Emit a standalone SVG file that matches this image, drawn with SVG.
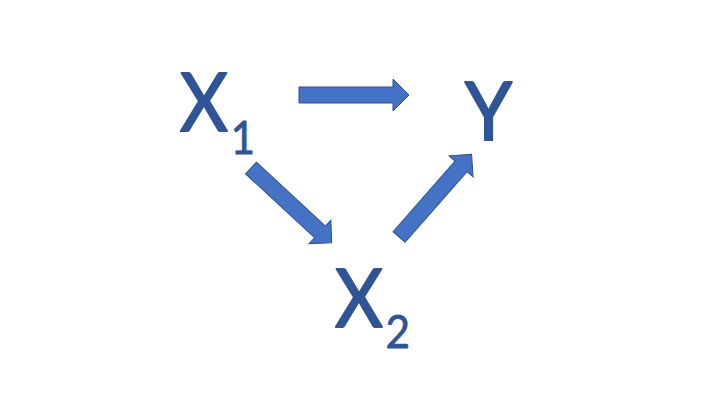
<svg xmlns="http://www.w3.org/2000/svg" width="720" height="405" viewBox="0 0 720 405">
<style>
.lbl{font-family:Lato,"Open Sans","Liberation Sans",sans-serif;fill:#2F5597;stroke:#2F5597;stroke-width:2;stroke-linejoin:round}
.big{font-size:82px}
.sub{font-size:47px;stroke-width:0.8}
.arr{fill:#4472C4;stroke:#2F528F;stroke-width:1}
</style>
<defs>
<path id="arrow" d="M0,-8 H94 V-16 L110,0 L94,16 V8 H0 Z"/>
</defs>
<rect width="720" height="405" fill="#fff"/>
<g id="connectors">
<use href="#arrow" class="arr" transform="translate(299,95)"/>
<use href="#arrow" class="arr" transform="translate(251,168) rotate(42.8)"/>
<use href="#arrow" class="arr" transform="translate(399,237) rotate(-48.7)"/>
</g>
<g id="X1"><text class="lbl" transform="translate(180,131) scale(0.9,1)"><tspan class="big">X</tspan><tspan class="sub" dx="3" dy="23">1</tspan></text></g>
<g id="Y"><text class="lbl big" transform="translate(465,140) scale(0.92,1)">Y</text></g>
<g id="X2"><text class="lbl" transform="translate(335,327) scale(0.9,1)"><tspan class="big">X</tspan><tspan class="sub" dx="3" dy="21">2</tspan></text></g>
</svg>
